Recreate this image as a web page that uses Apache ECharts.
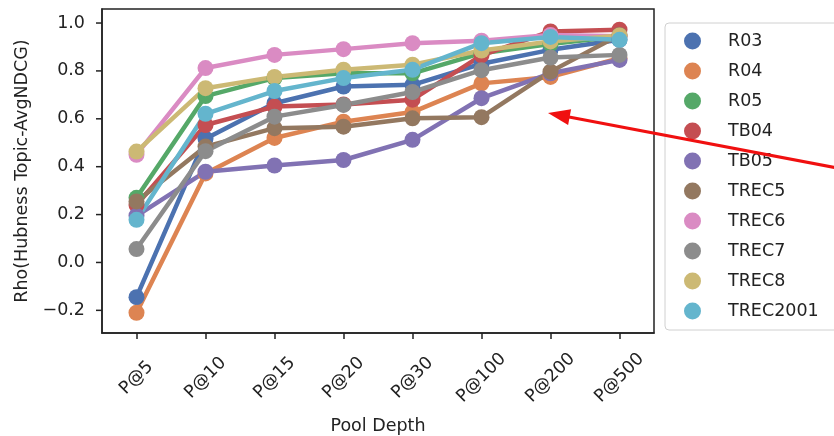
<!DOCTYPE html>
<html>
<head>
<meta charset="utf-8">
<script src="https://cdn.jsdelivr.net/npm/echarts@6/dist/echarts.min.js"></script>
<style>
html,body{margin:0;padding:0;background:#fff;}
#chart{width:834px;height:436px;}
</style>
</head>
<body>
<div id="chart"></div>
<script>
const categories = ['P@5','P@10','P@15','P@20','P@30','P@100','P@200','P@500'];
const seriesNames = ['R03','R04','R05','TB04','TB05','TREC5','TREC6','TREC7','TREC8','TREC2001'];
const R03      = [-0.145, 0.517, 0.665, 0.735, 0.742, 0.830, 0.888, 0.930];
const R04      = [-0.210, 0.372, 0.520, 0.588, 0.628, 0.748, 0.775, 0.853];
const R05      = [ 0.270, 0.695, 0.770, 0.790, 0.790, 0.874, 0.912, 0.945];
const TB04     = [ 0.240, 0.574, 0.651, 0.660, 0.680, 0.865, 0.965, 0.972];
const TB05     = [ 0.195, 0.379, 0.405, 0.428, 0.512, 0.686, 0.790, 0.846];
const TREC5    = [ 0.255, 0.484, 0.561, 0.567, 0.602, 0.607, 0.797, 0.950];
const TREC6    = [ 0.450, 0.812, 0.867, 0.891, 0.916, 0.926, 0.950, 0.945];
const TREC7    = [ 0.056, 0.465, 0.609, 0.658, 0.712, 0.803, 0.856, 0.867];
const TREC8    = [ 0.463, 0.728, 0.775, 0.805, 0.826, 0.885, 0.923, 0.948];
const TREC2001 = [ 0.178, 0.621, 0.716, 0.770, 0.805, 0.916, 0.942, 0.930];
const yTickValues = [-0.2, 0.0, 0.2, 0.4, 0.6, 0.8, 1.0];

const seriesData = [R03, R04, R05, TB04, TB05, TREC5, TREC6, TREC7, TREC8, TREC2001];
const colors = ['#4C72B0','#DD8452','#55A868','#C44E52','#8172B3','#937860','#DA8BC3','#8C8C8C','#CCB974','#64B5CD'];
const FONT = 'DejaVu Sans';
const TXT = '#222';
const GRID_LEFT = 102;

const arrowGraphics = [
  {id: 'arrowLine', type: 'polyline', z: 100, shape: {points: [[569, 117], [840, 168.5]]}, style: {stroke: '#f01010', lineWidth: 3, fill: null}},
  {id: 'arrowHead', type: 'polygon', z: 100, shape: {points: [[548, 113], [571.1, 109.2], [568.1, 125]]}, style: {fill: '#f01010'}}
];

const chart = echarts.init(document.getElementById('chart'), null, {renderer: 'canvas'});
chart.setOption({
  animation: false,
  color: colors,
  grid: {left: GRID_LEFT, right: 180, top: 9, bottom: 103, containLabel: false, outerBoundsMode: 'none',
    show: true, borderColor: '#222', borderWidth: 1.5, backgroundColor: 'transparent'},
  xAxis: {
    type: 'category',
    data: categories,
    boundaryGap: true,
    name: 'Pool Depth',
    nameLocation: 'middle',
    nameGap: 84,
    nameTextStyle: {fontFamily: FONT, fontSize: 17.5, color: TXT},
    axisLine: {show: true, onZero: false, lineStyle: {color: '#222', width: 1.5}},
    axisTick: {show: true, inside: false, alignWithLabel: true, length: 6, lineStyle: {color: '#222', width: 1.5}},
    axisLabel: {fontFamily: FONT, fontSize: 17.5, color: TXT, rotate: 45, align: 'center', verticalAlign: 'middle', margin: 45, interval: 0},
    splitLine: {show: false}
  },
  yAxis: {
    type: 'value',
    position: 'left',
    min: -0.2946,
    max: 1.0586,
    name: 'Rho(Hubness Topic-AvgNDCG)',
    nameLocation: 'middle',
    nameRotate: 90,
    nameGap: 68,
    nameTextStyle: {fontFamily: FONT, fontSize: 17.5, color: TXT},
    axisLine: {show: true, onZero: false, lineStyle: {color: '#222', width: 1.5}},
    axisTick: {show: false},
    axisLabel: {fontFamily: FONT, fontSize: 17.5, color: TXT, margin: 17, customValues: yTickValues,
      formatter: v => v.toFixed(1).replace('-', '\u2212')},
    splitLine: {show: false}
  },
  legend: {
    orient: 'vertical',
    left: 665,
    top: 23,
    padding: [9, 20, 10, 19],
    itemGap: 12,
    itemWidth: 17,
    itemHeight: 17,
    icon: 'circle',
    borderColor: '#d0d0d0',
    borderWidth: 1,
    borderRadius: 4,
    backgroundColor: 'rgba(255,255,255,0.85)',
    textStyle: {fontFamily: FONT, fontSize: 17.5, color: TXT, padding: [0, 0, 0, 22], lineHeight: 17},
    data: seriesNames
  },
  series: seriesNames.map((n, i) => ({
    name: n,
    type: 'line',
    data: seriesData[i],
    symbol: 'circle',
    symbolSize: 16,
    lineStyle: {width: 4.5, color: colors[i]},
    itemStyle: {color: colors[i]},
    emphasis: {disabled: true}
  })),
  graphic: arrowGraphics
});

// y-axis tick marks placed through the axis scale
const tickGraphics = yTickValues.map((v, i) => {
  const y = chart.convertToPixel({yAxisIndex: 0}, v);
  return {id: 'ytick' + i, type: 'rect', z: 50,
    shape: {x: GRID_LEFT - 6, y: y - 0.75, width: 6, height: 1.5},
    style: {fill: '#222'}};
});
chart.setOption({graphic: arrowGraphics.concat(tickGraphics)});
</script>
</body>
</html>
